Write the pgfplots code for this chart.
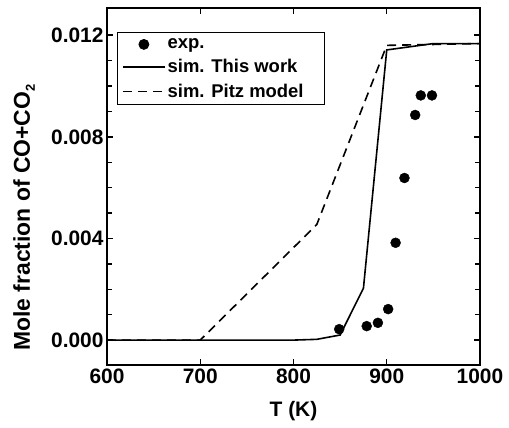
\documentclass[border=0pt]{standalone}
\usepackage{fontspec}
\setmainfont{Liberation Sans}
\usepackage{pgfplots}
\pgfplotsset{compat=1.18}
\begin{document}
\begin{tikzpicture}
\begin{axis}[
  scale only axis, width=373bp, height=357bp,
  xmin=600, xmax=1000, ymin=-0.00098, ymax=0.01307,
  xtick={600,700,800,900,1000},
  ytick={0,0.004,0.008,0.012},
  minor y tick num=3,
  tick align=inside,
  major tick length=6bp, minor tick length=5bp,
  axis line style={line width=1.8bp},
  every tick/.style={line width=1.4bp, black},
  /pgf/number format/assume math mode=true,
  ticklabel style={font=\fontsize{21}{24}\selectfont\bfseries},
  y tick label style={/pgf/number format/.cd, fixed, fixed zerofill, precision=3},
  x tick label style={/pgf/number format/.cd, set thousands separator={}},
  scaled y ticks=false,
  xlabel={T (K)},
  ylabel={Mole fraction of CO+CO\raisebox{-5bp}{\fontsize{13}{15}\selectfont 2}},
  xlabel style={font=\fontsize{21}{24}\selectfont\bfseries, at={(rel axis cs:0.5,0)}, anchor=center, yshift=-46bp},
  ylabel style={font=\fontsize{23}{26}\selectfont\bfseries, at={(rel axis cs:0,0.413)}, anchor=center, yshift=83bp},
  legend style={at={(rel axis cs:0.026,0.932)}, anchor=north west, draw=black, line width=0.8bp,
    font=\fontsize{18.5}{22}\selectfont\bfseries, inner xsep=5bp, inner ysep=4bp,
    row sep=5.5bp, /tikz/every even column/.append style={column sep=5bp}},
  legend cell align=left,
  legend image code/.code={\draw[mark repeat=2,mark phase=2,#1] plot coordinates {(0bp,0bp) (21bp,0bp) (42bp,0bp)};},
  clip=false,
]
\addplot[only marks, mark=*, mark size=5bp, black] coordinates {
 (849,0.00043) (878.5,0.00055) (890.5,0.00068) (901.5,0.00122) (909.5,0.00383)
 (919,0.00638) (930.5,0.00886) (936.5,0.00963) (948.5,0.00963)
};
\addlegendentry{exp.}
\addplot[black, line width=1.6bp, mark=none] coordinates {
 (600,0) (700,0) (800,0) (825,0.00003) (850,0.0002) (875,0.00204) (900,0.01142) (950,0.01167) (1000,0.01167)
};
\addlegendentry{sim. This work}
\addplot[black, line width=1.6bp, mark=none, dash pattern=on 9bp off 6bp] coordinates {
 (600,0) (700,0) (825,0.00455) (900,0.01160) (1000,0.01167)
};
\addlegendentry{sim. Pitz model\hspace*{14bp}}
\coordinate (bl) at (rel axis cs:0,0);
\coordinate (tr) at (rel axis cs:1,1);
\end{axis}
\pgfresetboundingbox
\path ([shift={(-107bp,-63bp)}]bl) rectangle ([shift={(29bp,8bp)}]tr);
\end{tikzpicture}
\end{document}
